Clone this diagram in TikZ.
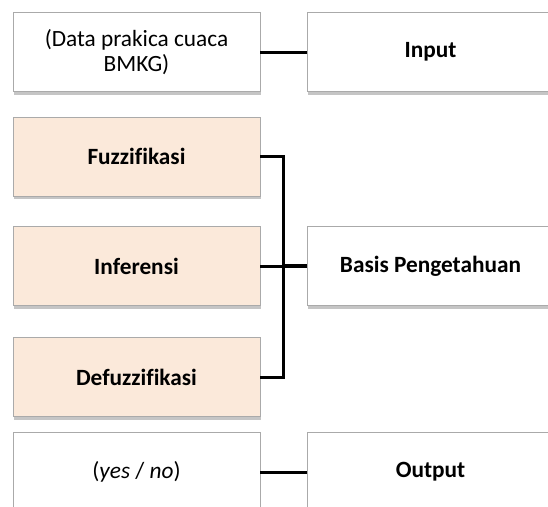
\documentclass[tikz,border=0pt]{standalone}
\usepackage{fontspec}
\setmainfont{Carlito}[Ligatures=NoCommon]
\usetikzlibrary{shadows}
\definecolor{peach}{RGB}{251,233,218}
\definecolor{boxline}{RGB}{170,170,170}
\tikzset{
  box/.style={draw=boxline, line width=1pt, rectangle, inner sep=0pt, outer sep=0pt,
    minimum width=247pt, minimum height=79pt, align=center,
    font=\fontsize{23.3}{25.5}\selectfont,
    drop shadow={shadow xshift=1pt, shadow yshift=-3pt, fill=black!45, opacity=0.5}},
  whitebox/.style={box, fill=white},
  peachbox/.style={box, fill=peach, font=\fontsize{23.3}{25.5}\selectfont\bfseries},
  rightbox/.style={whitebox, font=\fontsize{23.3}{25.5}\selectfont\bfseries},
  conn/.style={line width=3pt, black},
  connthick/.style={line width=4.5pt, black}
}
\begin{document}
\begin{tikzpicture}[x=1pt,y=-1pt]
\useasboundingbox (0,0) rectangle (548,506);
\clip (0,0) rectangle (548,506);
\fill[white] (0,0) rectangle (548,506);
% left column
\node[whitebox] (src) at (136.5,52) {(Data prakica cuaca\\BMKG)};
\node[peachbox] (fuz) at (136.5,156.5) {Fuzzifikasi};
\node[peachbox] (inf) at (136.5,266) {Inferensi};
\node[peachbox] (def) at (136.5,377) {Defuzzifikasi};
\node[whitebox] (yn) at (136.5,472) {(\textit{yes} / \textit{no})};
% right column
\node[rightbox] (inp) at (430.5,52) {Input};
\node[rightbox] (bas) at (430.5,266) {Basis Pengetahuan};
\node[rightbox] (out) at (430.5,472) {Output};
% connectors
\draw[conn] (src.east) -- (inp.west);
\draw[conn] (yn.east) -- (out.west);
\coordinate (jn) at (283,266);
\draw[conn] (fuz.east) -- (fuz.east -| jn) -- (def.east -| jn) -- (def.east);
\draw[conn] (inf.east) -- (jn);
\draw[connthick] (jn) -- (bas.west);
\end{tikzpicture}
\end{document}
